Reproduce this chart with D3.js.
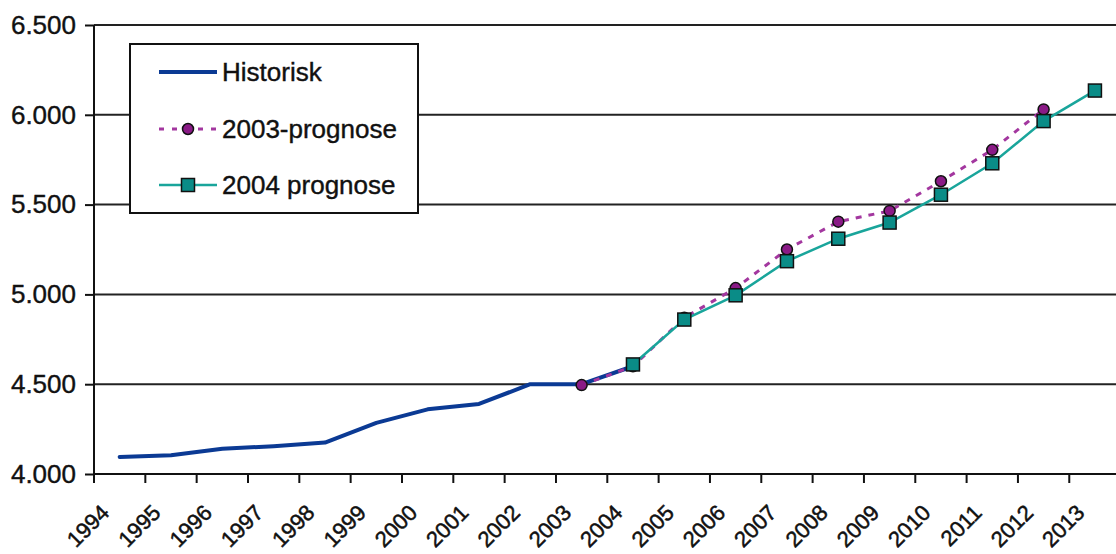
<!DOCTYPE html>
<html>
<head>
<meta charset="utf-8">
<script src="https://cdn.jsdelivr.net/npm/d3@7/dist/d3.min.js"></script>
<style>
html,body{margin:0;padding:0;background:#fff;overflow:hidden;}
svg{display:block;font-family:"Liberation Sans",Arial,sans-serif;}
</style>
</head>
<body>
<svg id="chart" width="1116" height="554"></svg>
<script>
const years = d3.range(1994, 2014).map(String);
const yTicks = [4000, 4500, 5000, 5500, 6000, 6500];

const histYears = ["1994","1995","1996","1997","1998","1999","2000","2001","2002","2003","2004"];
const histValues = [4095, 4105, 4140, 4155, 4175, 4285, 4360, 4390, 4500, 4500, 4600];

const p2003Years = ["2003","2004","2005","2006","2007","2008","2009","2010","2011","2012"];
const p2003Values = [4495, 4600, 4870, 5035, 5250, 5405, 5465, 5630, 5805, 6030];

const p2004Years = ["2004","2005","2006","2007","2008","2009","2010","2011","2012","2013"];
const p2004Values = [4610, 4860, 4995, 5185, 5310, 5400, 5555, 5730, 5965, 6135];

const seriesNames = ["Historisk", "2003-prognose", "2004 prognose"];

const svg = d3.select("#chart");
const pLeft = 94, step = 51.33, pTop = 25, pBottom = 474;
const x = d3.scaleBand().domain(years).range([pLeft, pLeft + step * years.length]).padding(0);
const cx = d => x(d) + x.bandwidth() / 2;
const y = d3.scaleLinear().domain([4000, 6500]).range([pBottom, pTop]);
const loc = d3.formatLocale({decimal: ",", thousands: ".", grouping: [3], currency: ["", ""]});
const fmt = loc.format(",d");

const FS = 26, XFS = 22;

// gridlines
svg.append("g").selectAll("line").data(yTicks.filter(v => v > 4000)).join("line")
  .attr("x1", pLeft).attr("x2", 1116)
  .attr("y1", d => y(d)).attr("y2", d => y(d))
  .attr("stroke", "#222").attr("stroke-width", 2);

// y axis
const yAxis = d3.axisLeft(y).tickValues(yTicks).tickFormat(fmt).tickSizeInner(9).tickSizeOuter(0).tickPadding(9);
const gy = svg.append("g").attr("transform", `translate(${pLeft},0)`).call(yAxis);
gy.select(".domain").attr("stroke", "#111").attr("stroke-width", 2).attr("d", `M0,${pTop}V${pBottom + 9}`);
gy.selectAll(".tick line").attr("stroke", "#111").attr("stroke-width", 2);
gy.selectAll(".tick text").attr("font-size", FS).attr("fill", "#111")
  .attr("font-family", "'Liberation Sans',Arial,sans-serif")
  .attr("stroke", "#111").attr("stroke-width", 0.4);

// x axis
const xAxis = d3.axisBottom(x).tickSize(0).tickPadding(0);
const gx = svg.append("g").attr("transform", `translate(0,${pBottom})`).call(xAxis);
gx.select(".domain").attr("stroke", "#111").attr("stroke-width", 2).attr("d", `M${pLeft},0H1116`);
gx.selectAll(".tick text")
  .attr("font-size", XFS).attr("fill", "#111")
  .attr("font-family", "'Liberation Sans',Arial,sans-serif")
  .attr("stroke", "#111").attr("stroke-width", 0.5)
  .attr("text-anchor", "end")
  .attr("y", 0)
  .attr("dy", "0")
  .attr("transform", "translate(-9,40) rotate(-45)");
// boundary ticks
const bounds = years.map(d => x(d)).concat([x(years[years.length - 1]) + x.bandwidth()]);
svg.append("g").selectAll("line").data(bounds).join("line")
  .attr("x1", d => d).attr("x2", d => d)
  .attr("y1", pBottom).attr("y2", pBottom + 9)
  .attr("stroke", "#111").attr("stroke-width", 2);

// series
const line = d3.line().x(d => cx(d[0])).y(d => y(d[1]));
const histData = histYears.map((d, i) => [d, histValues[i]]);
const p3Data = p2003Years.map((d, i) => [d, p2003Values[i]]);
const p4Data = p2004Years.map((d, i) => [d, p2004Values[i]]);

const BLUE = "#0b3a94", PURPLE = "#a3379f", PFILL = "#8a1a86", TEAL = "#19a59b", TFILL = "#0a8c87";

svg.append("path").datum(histData).attr("d", line)
  .attr("fill", "none").attr("stroke", BLUE).attr("stroke-width", 4).attr("stroke-linejoin", "round").attr("stroke-linecap", "round");

svg.append("path").datum(p3Data).attr("d", line)
  .attr("fill", "none").attr("stroke", PURPLE).attr("stroke-width", 3).attr("stroke-dasharray", "6,7");
svg.append("g").selectAll("circle").data(p3Data).join("circle")
  .attr("cx", d => cx(d[0])).attr("cy", d => y(d[1])).attr("r", 5.5)
  .attr("fill", PFILL).attr("stroke", "#111").attr("stroke-width", 1.5);

svg.append("path").datum(p4Data).attr("d", line)
  .attr("fill", "none").attr("stroke", TEAL).attr("stroke-width", 2.5);
const sq = 13;
svg.append("g").selectAll("rect").data(p4Data).join("rect")
  .attr("x", d => cx(d[0]) - sq / 2).attr("y", d => y(d[1]) - sq / 2)
  .attr("width", sq).attr("height", sq)
  .attr("fill", TFILL).attr("stroke", "#111").attr("stroke-width", 1.5);

// legend
const lg = svg.append("g");
lg.append("rect").attr("x", 130).attr("y", 44).attr("width", 288).attr("height", 169)
  .attr("fill", "#fff").attr("stroke", "#111").attr("stroke-width", 2);
const rows = [72, 129, 185];
const lx1 = 159, lx2 = 217, mx = 188, tx = 222;
lg.append("line").attr("x1", lx1).attr("x2", lx2).attr("y1", rows[0]).attr("y2", rows[0])
  .attr("stroke", BLUE).attr("stroke-width", 4);
lg.append("line").attr("x1", lx1).attr("x2", lx2).attr("y1", rows[1]).attr("y2", rows[1])
  .attr("stroke", PURPLE).attr("stroke-width", 3).attr("stroke-dasharray", "5,8");
lg.append("circle").attr("cx", mx).attr("cy", rows[1]).attr("r", 5.5)
  .attr("fill", PFILL).attr("stroke", "#111").attr("stroke-width", 1.5);
lg.append("line").attr("x1", lx1).attr("x2", lx2).attr("y1", rows[2]).attr("y2", rows[2])
  .attr("stroke", TEAL).attr("stroke-width", 2.5);
lg.append("rect").attr("x", mx - sq / 2).attr("y", rows[2] - sq / 2).attr("width", sq).attr("height", sq)
  .attr("fill", TFILL).attr("stroke", "#111").attr("stroke-width", 1.5);
lg.selectAll("text").data(seriesNames).join("text")
  .attr("x", tx).attr("y", (d, i) => rows[i]).attr("dy", "0.35em")
  .attr("font-size", FS).attr("fill", "#111")
  .attr("stroke", "#111").attr("stroke-width", 0.4)
  .text(d => d);
</script>
</body>
</html>
